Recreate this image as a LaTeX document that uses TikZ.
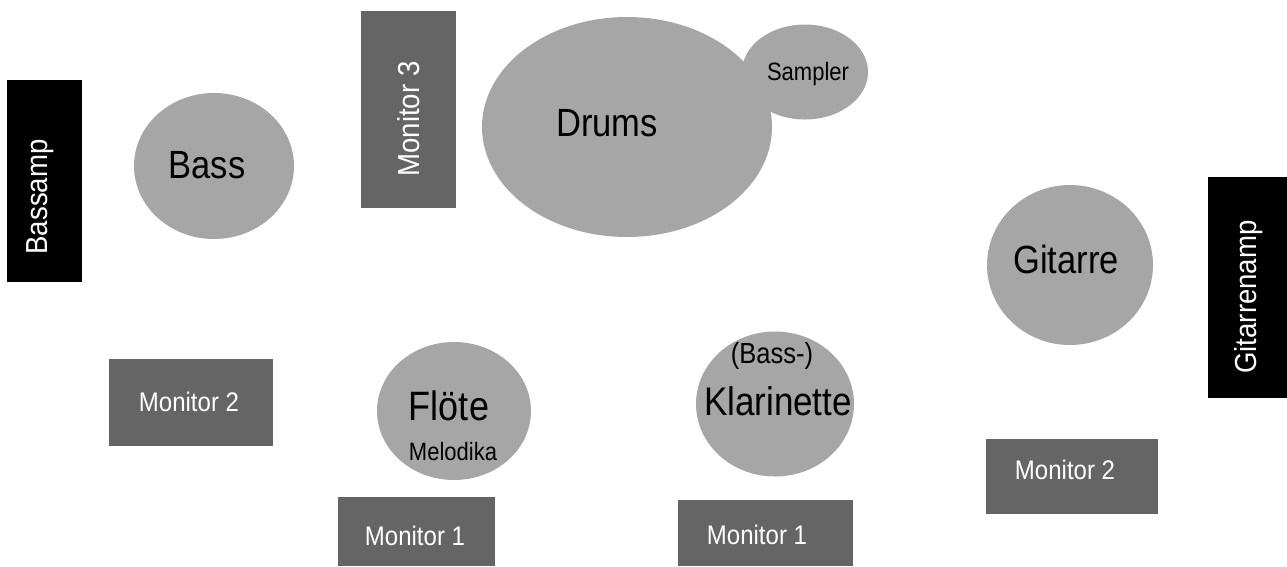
\documentclass[tikz,border=0pt]{standalone}
\usepackage{fontspec}
\setmainfont{Liberation Sans}
\usepackage{tikz}
\definecolor{playergray}{HTML}{A6A6A6}
\definecolor{monitorgray}{HTML}{656565}

\begin{document}
\begin{tikzpicture}[x=1pt, y=-1pt,
    player/.style={fill=playergray},
    monitor/.style={fill=monitorgray},
    amp/.style={fill=black},
    bigtext/.style={inner sep=0, yscale=1.14, font=\fontsize{34.5}{40}\selectfont},
    smalltext/.style={inner sep=0, yscale=1.14, font=\fontsize{22}{26}\selectfont},
    montext/.style={inner sep=0, yscale=1.12, text=white, font=\fontsize{24}{28}\selectfont},
    amptext/.style={inner sep=0, text=white, rotate=90, yscale=1.1, font=\fontsize{27.6}{32}\selectfont}]
      \useasboundingbox (0,0) rectangle (1287,566);
      \fill [amp] (7,80) rectangle (82,282);
      \fill [player] (214,166) circle [x radius=80pt, y radius=73pt];
      \fill [monitor] (361,11) rectangle (456,208);
      \fill [player] (627,127) circle [x radius=145pt, y radius=110pt];
      \fill [player] (805,72) circle [x radius=63pt, y radius=47.5pt];
      \fill [player] (1070,265) circle [x radius=83pt, y radius=80pt];
      \fill [amp] (1208,177) rectangle (1287,398);
      \fill [monitor] (109,359) rectangle (273,446);
      \fill [player] (454,411) circle [x radius=77pt, y radius=69pt];
      \fill [player] (775,404) circle [x radius=79pt, y radius=72.5pt];
      \fill [monitor] (986,439) rectangle (1158,514);
      \fill [monitor] (338,497) rectangle (495,566);
      \fill [monitor] (678,500) rectangle (853,566);
      \node [amptext] (bassamp) at (40,197) {Bassamp};
      \node [bigtext] (bass) at (207,165) {Bass};
      \node [amptext] (monitor3) at (409,119) {Monitor 3};
      \node [bigtext] (drums) at (607,123) {Drums};
      \node [smalltext] (sampler) at (808,74) {Sampler};
      \node [bigtext] (gitarre) at (1066,259) {Gitarre};
      \node [amptext] (gitarrenamp) at (1249,297) {Gitarrenamp};
      \node [montext] (monitor2l) at (189,402) {Monitor 2};
      \node [bigtext, font=\fontsize{36}{40}\selectfont] (floete) at (449,406) {Flöte};
      \node [smalltext] (melodika) at (453,452) {Melodika};
      \node [smalltext, font=\fontsize{25.5}{30}\selectfont] (bassklar) at (772,356) {(Bass-)};
      \node [bigtext, font=\fontsize{35}{40}\selectfont] (klarinette) at (778,401) {Klarinette};
      \node [montext] (monitor2r) at (1065,470) {Monitor 2};
      \node [montext] (monitor1l) at (415,536) {Monitor 1};
      \node [montext] (monitor1r) at (757,535) {Monitor 1};
    \end{tikzpicture}
\end{document}
